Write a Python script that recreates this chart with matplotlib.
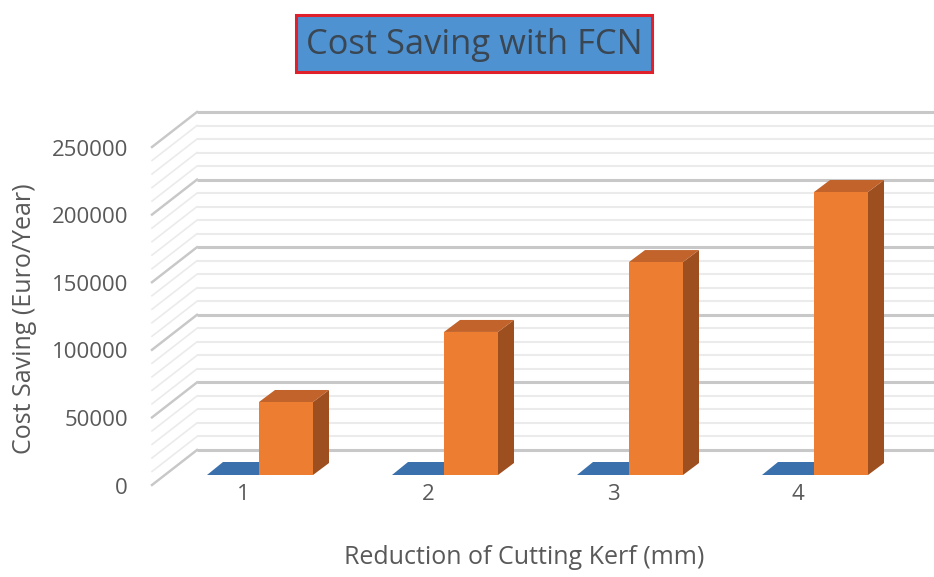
import matplotlib
matplotlib.use("Agg")
import matplotlib.pyplot as plt
from matplotlib.patches import Polygon, Rectangle

plt.rcParams['font.family'] = ['Open Sans', 'DejaVu Sans']

# data
categories = ['1', '2', '3', '4']
series_blue = [0, 0, 0, 0]
series_orange = [54000, 105800, 157500, 209300]
yticks = [0, 50000, 100000, 150000, 200000, 250000]
title = 'Cost Saving with FCN'
xlabel = 'Reduction of Cutting Kerf (mm)'
ylabel = 'Cost Saving (Euro/Year)'

# pixel scale of the fake 3d projection
W, H = 934, 577
px_x = 185.0            # pixels per category
px_y = 67.6 / 50000.0   # pixels per unit value
x0_px, y0_px = 259, 475  # where category 1 / value 0 sits (bar front plane)

def dx(p):
    return p / px_x

def dy(p):
    return p / px_y

fig = plt.figure(figsize=(W / 100, H / 100), dpi=100)
L, R, T, B = 150, 934, 95, 505
ax = fig.add_axes([L / W, (H - B) / H, (R - L) / W, (B - T) / H])
ax.set_xlim(1 + (L - x0_px) / px_x, 1 + (R - x0_px) / px_x)
ax.set_ylim((y0_px - B) / px_y, (y0_px - T) / px_y)
ax.axis('off')

# back wall / left wall grid
back_dx, back_dy = 32, 25
front_dx, front_dy = -13, -10
x_wall = 1 + (197 - back_dx - x0_px) / px_x
xmax = ax.get_xlim()[1]
for v in range(0, 250001, 10000):
    major = v % 50000 == 0
    col = '#c8c8c8' if major else '#ebebeb'
    lw = 2.2 if major else 1.5
    yb = v + dy(back_dy)
    ax.plot([x_wall + dx(back_dx), xmax], [yb, yb], color=col, lw=lw,
            zorder=1, solid_capstyle='butt')
    ax.plot([x_wall + dx(back_dx), x_wall + dx(front_dx)],
            [yb, v + dy(front_dy)], color=col, lw=lw * 0.8, zorder=1)

# bars with fake depth
w_blue = 52 / px_x
w_orange = 54 / px_x
ddx, ddy = dx(16), dy(12)
x = list(range(1, len(categories) + 1))

for i in range(len(categories)):
    xi = x[i]
    # blue series (zero height, only top face visible)
    vb = series_blue[i]
    ax.add_patch(Polygon([(xi - w_blue, vb), (xi, vb), (xi + ddx, vb + dy(13)),
                          (xi - w_blue + ddx, vb + dy(13))],
                         closed=True, fc='#3a70ab', ec='none', zorder=3))
    # orange series
    v = series_orange[i]
    a, b = xi, xi + w_orange
    ax.add_patch(Polygon([(b, 0), (b, v), (b + ddx, v + ddy), (b + ddx, ddy)],
                         closed=True, fc='#9e4f1f', ec='none', zorder=4))
    ax.add_patch(Polygon([(a, v), (b, v), (b + ddx, v + ddy), (a + ddx, v + ddy)],
                         closed=True, fc='#c1632b', ec='none', zorder=4))
    ax.bar([a], [v], width=w_orange, align='edge', color='#ed7d31', zorder=5)

# tick labels on the floor front
for t in yticks:
    ax.text(1 + (128 - x0_px) / px_x, t + dy(front_dy - 3), str(t), ha='right',
            va='center', fontsize=16, color='#595959')
for i, c in enumerate(categories):
    ax.text(x[i] + dx(-16), dy(475 - 495), c, ha='center', va='center',
            fontsize=16, color='#595959')

fig.text(524 / W, 1 - 557 / H, xlabel, ha='center', va='center',
         fontsize=18, color='#595959')
fig.text(25 / W, 1 - 319 / H, ylabel, ha='center', va='center',
         rotation=90, fontsize=18, color='#595959')

# title box
fig.patches.append(Rectangle((296 / W, 1 - 72 / H), (652 - 296) / W, (72 - 15) / H,
                             transform=fig.transFigure, fc='#4e92d2', ec='#e0202a',
                             lw=2.2, zorder=0))
fig.text(474 / W, 1 - 45 / H, title, ha='center', va='center',
         fontsize=24.8, color='#3a4652')

fig.savefig('out.png', dpi=100)
